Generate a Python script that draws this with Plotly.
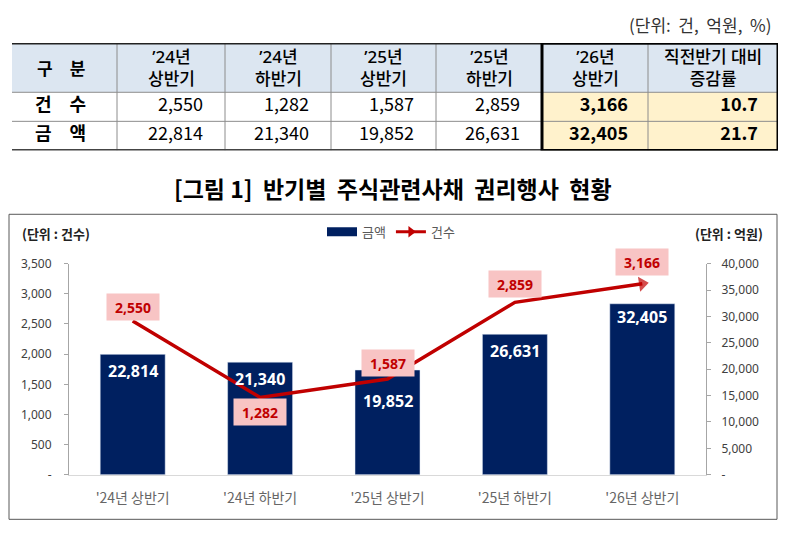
import plotly.graph_objects as go

# ---------------- data ----------------
periods = ["'24년 상반기", "'24년 하반기", "'25년 상반기", "'25년 하반기", "'26년 상반기"]
table_periods = ["’24년<br>상반기", "’24년<br>하반기", "’25년<br>상반기", "’25년<br>하반기", "’26년<br>상반기"]
counts = [2550, 1282, 1587, 2859, 3166]          # 건수
amounts = [22814, 21340, 19852, 26631, 32405]    # 금액 (억원)
count_change = 10.7                               # 직전반기 대비 증감률 (%)
amount_change = 21.7
left_ticks = [0, 500, 1000, 1500, 2000, 2500, 3000, 3500]
right_ticks = [0, 5000, 10000, 15000, 20000, 25000, 30000, 35000, 40000]

# ---------------- style ----------------
W, H = 787, 537
KR = "Noto Sans CJK KR"
KR_LATIN = "Noto Sans, Noto Sans CJK KR"
NAVY = "#002060"
RED = "#c00000"
PINK = "#f8c4c4"
HDR = "#dce6f1"
YEL = "#fff2cc"
GRID = "#8c8c8c"
SP = "\u3000"


def px(x):
    return x / W


def py(y):
    return 1 - y / H


fig = go.Figure()
shapes = []
annotations = []

# ---------------- table (drawn on its own hidden axes, 1 unit = 1 px) ----------------
col_w = [105, 108, 106, 105, 106, 106, 130]
tbl_x0, tbl_y0, tbl_y1 = 12, 35, 146
tbl_w = sum(col_w)
hdr_h, row_h = 51, 30
tbl_h = hdr_h + 2 * row_h
edges = [sum(col_w[:i]) for i in range(len(col_w) + 1)]
centers = [(edges[i] + edges[i + 1]) / 2 for i in range(len(col_w))]
row_top = [2 * row_h, row_h]           # top of row 건수, 금액 (y units, 0 = bottom)

for c in range(len(col_w)):
    shapes.append(dict(type="rect", xref="x3", yref="y3", x0=edges[c], x1=edges[c + 1],
                       y0=2 * row_h, y1=tbl_h, fillcolor=HDR, line=dict(width=0), layer="below"))
    body_fill = YEL if c >= 5 else "white"
    shapes.append(dict(type="rect", xref="x3", yref="y3", x0=edges[c], x1=edges[c + 1],
                       y0=0, y1=2 * row_h, fillcolor=body_fill, line=dict(width=0), layer="below"))
for e in edges[1:-1]:
    shapes.append(dict(type="line", xref="x3", yref="y3", x0=e, x1=e, y0=0, y1=tbl_h,
                       line=dict(color=GRID, width=1)))
for yy in (2 * row_h, row_h):
    shapes.append(dict(type="line", xref="x3", yref="y3", x0=0, x1=tbl_w, y0=yy, y1=yy,
                       line=dict(color=GRID, width=1)))
shapes.append(dict(type="line", xref="x3", yref="y3", x0=0, x1=tbl_w, y0=tbl_h, y1=tbl_h,
                   line=dict(color="#222222", width=3)))
shapes.append(dict(type="line", xref="x3", yref="y3", x0=0, x1=tbl_w, y0=0, y1=0,
                   line=dict(color="#444444", width=3)))
shapes.append(dict(type="rect", xref="x3", yref="y3", x0=edges[5], x1=edges[7], y0=0, y1=tbl_h,
                   line=dict(color="black", width=3)))

# header texts
header_vals = [f"<b>구{SP}분</b>"] + table_periods + ["직전반기 대비<br>증감률"]
for c, txt in enumerate(header_vals):
    annotations.append(dict(x=centers[c] - (4 if c == 0 else 0), y=2 * row_h + hdr_h / 2,
                            xref="x3", yref="y3",
                            text=txt, showarrow=False, xanchor="center", yanchor="middle",
                            font=dict(family=KR_LATIN if c else KR, size=17, color="black",
                                      weight=500)))

# body texts (a text trace)
tx, ty, tt, tp = [], [], [], []
row_labels = [f"<b>건{SP}수</b>", f"<b>금{SP}액</b>"]
row_series = [counts, amounts]
row_change = [count_change, amount_change]
for r in range(2):
    yc = row_top[r] - row_h / 2
    tx.append(centers[0] - 4); ty.append(yc); tt.append(row_labels[r]); tp.append("middle center")
    for i in range(4):
        tx.append(edges[i + 2] - 22); ty.append(yc)
        tt.append(f"{row_series[r][i]:,}"); tp.append("middle left")
    tx.append(edges[6] - 20); ty.append(yc)
    tt.append(f"<b>{row_series[r][4]:,}</b>"); tp.append("middle left")
    tx.append(edges[7] - 20); ty.append(yc)
    tt.append(f"<b>{row_change[r]}</b>"); tp.append("middle left")

fig.add_trace(go.Scatter(x=tx, y=ty, text=tt, textposition=tp, mode="text",
                         textfont=dict(family=KR, size=18, color="black"),
                         xaxis="x3", yaxis="y3", showlegend=False, hoverinfo="skip"))

# chart frame
shapes.append(dict(type="rect", xref="paper", yref="paper", x0=px(9), x1=px(777),
                   y0=py(527), y1=py(212), line=dict(color="#595959", width=1)))

# ---------------- chart ----------------
fig.add_trace(go.Bar(
    x=periods, y=amounts, name="금액", marker_color=NAVY, width=0.51,
    yaxis="y", hoverinfo="skip", showlegend=False,
))
fig.add_trace(go.Scatter(
    x=periods, y=counts, name="건수", yaxis="y2", mode="lines+markers",
    line=dict(color=RED, width=3.5),
    marker=dict(symbol=["circle"] * 4 + ["triangle-up"], size=[0, 0, 0, 0, 13],
                angleref="previous", color=RED, line=dict(width=0)),
    hoverinfo="skip", showlegend=False,
))
# legend entries
fig.add_trace(go.Scatter(x=[None], y=[None], name="금액", mode="lines",
                         line=dict(color=NAVY, width=9), yaxis="y2"))
fig.add_trace(go.Scatter(x=[None], y=[None], name="건수", mode="lines+markers",
                         line=dict(color=RED, width=3),
                         marker=dict(symbol="triangle-right", size=10, color=RED), yaxis="y2"))

bar_label_shift = [-17, -17, -31, -17, -13]
for p, a, s in zip(periods, amounts, bar_label_shift):
    annotations.append(dict(x=p, y=a, xref="x", yref="y", text=f"<b>{a:,}</b>",
                            showarrow=False, yshift=s,
                            font=dict(family="Noto Sans", size=16, color="white")))
line_label_shift = [14, -15, 16, 18, 22]
for p, c, s in zip(periods, counts, line_label_shift):
    annotations.append(dict(x=p, y=c, xref="x", yref="y2", text=f"<b>{c:,}</b>",
                            showarrow=False, yshift=s, bgcolor=PINK, width=50, height=24,
                            font=dict(family="Noto Sans", size=14, color=RED)))

annotations += [
    dict(x=px(773), y=py(16), xref="paper", yref="paper", xanchor="right", yanchor="middle",
         text="(단위:\u00a0 건,\u00a0 억원,\u00a0 %)", showarrow=False,
         font=dict(family=KR, size=17, color="#333333")),
    dict(x=px(393), y=py(185), xref="paper", yref="paper", xanchor="center", yanchor="middle",
         text="<b>[그림\u00a01]\u00a0\u00a0반기별\u00a0\u00a0주식관련사채\u00a0\u00a0권리행사\u00a0\u00a0현황</b>",
         showarrow=False, font=dict(family=KR, size=23, color="black")),
    dict(x=px(20), y=py(232), xref="paper", yref="paper", xanchor="left", yanchor="middle",
         text="<b>(단위 : 건수)</b>", showarrow=False,
         font=dict(family=KR, size=13, color="#222222")),
    dict(x=px(765), y=py(232), xref="paper", yref="paper", xanchor="right", yanchor="middle",
         text="<b>(단위 : 억원)</b>", showarrow=False,
         font=dict(family=KR, size=13, color="#222222")),
]


def fmt(v):
    return "-" if v == 0 else f"{v:,}"


plot_x0, plot_x1, plot_top, plot_bot = 69, 706, 263, 481

fig.update_layout(
    width=W, height=H, margin=dict(l=0, r=0, t=0, b=0),
    paper_bgcolor="white", plot_bgcolor="rgba(0,0,0,0)",
    showlegend=True,
    legend=dict(orientation="h", x=px(322), y=py(230), xanchor="left", yanchor="middle",
                font=dict(family=KR, size=13, color="#595959"), bgcolor="rgba(0,0,0,0)",
                traceorder="normal", itemwidth=30),
    xaxis=dict(domain=[px(plot_x0), px(plot_x1)], showline=True, linecolor="#d9d9d9",
               linewidth=1, ticks="", showgrid=False, ticklabelstandoff=10,
               tickfont=dict(family=KR, size=14, color="#666666"), fixedrange=True),
    yaxis=dict(domain=[py(plot_bot), py(plot_top)], side="right", range=[0, 40000],
               tickvals=right_ticks, ticktext=[fmt(v) for v in right_ticks],
               showline=True, linecolor="#a6a6a6", ticks="outside", ticklen=4,
               tickcolor="#a6a6a6", showgrid=False, zeroline=False,
               tickfont=dict(family="Noto Sans", size=12, color="#404040"), ticklabelstandoff=8),
    yaxis2=dict(overlaying="y", side="left", range=[0, 3500],
                tickvals=left_ticks, ticktext=[fmt(v) for v in left_ticks],
                showline=True, linecolor="#a6a6a6", ticks="outside", ticklen=4,
                tickcolor="#a6a6a6", showgrid=False, zeroline=False,
                tickfont=dict(family="Noto Sans", size=12, color="#404040"), ticklabelstandoff=10),
    xaxis3=dict(domain=[px(tbl_x0), px(tbl_x0 + tbl_w)], range=[0, tbl_w], anchor="y3",
                visible=False, fixedrange=True),
    yaxis3=dict(domain=[py(tbl_y1), py(tbl_y0)], range=[0, tbl_h], anchor="x3",
                visible=False, fixedrange=True),
    shapes=shapes, annotations=annotations,
)

fig.write_html("out.html", config={"displayModeBar": False},
               post_script="document.body.style.margin='0';")
